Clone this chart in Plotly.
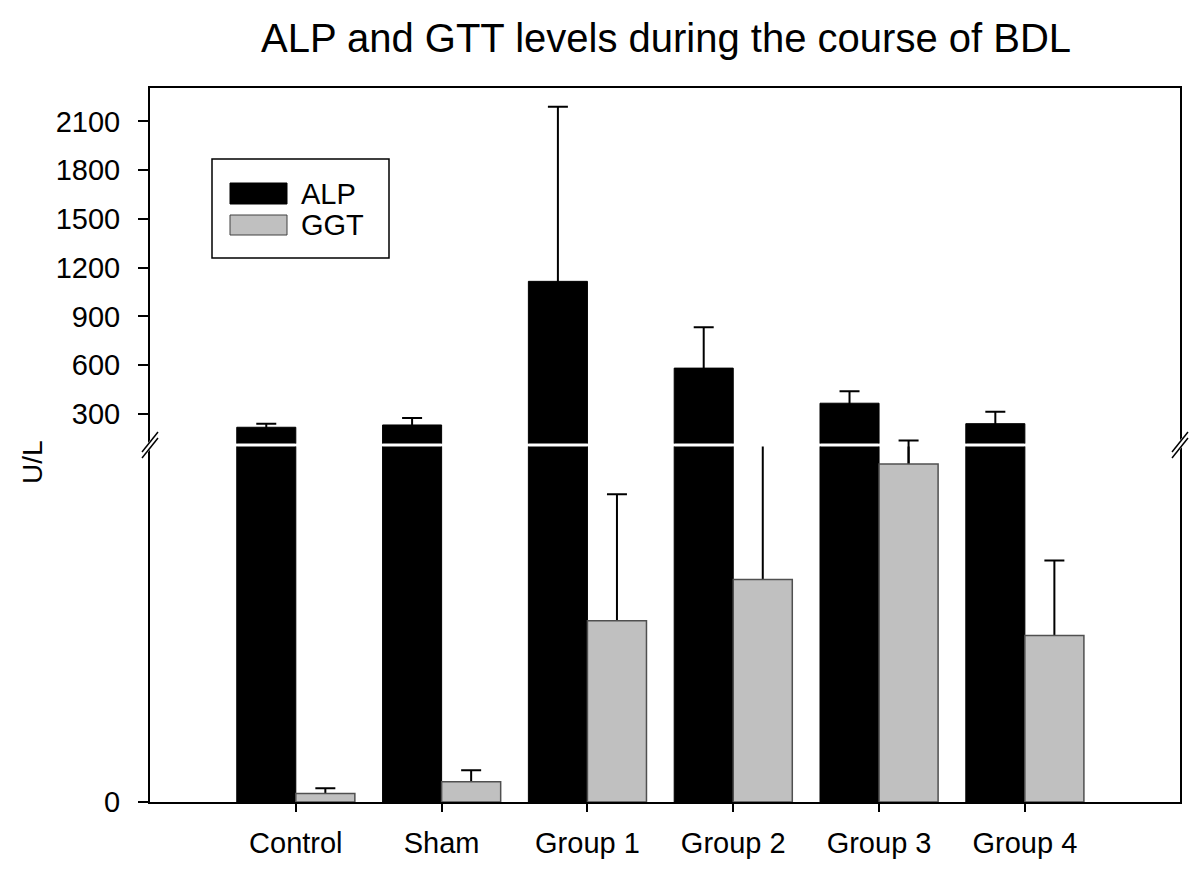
import plotly.graph_objects as go

# ---- data ----
groups = ["Control", "Sham", "Group 1", "Group 2", "Group 3", "Group 4"]
alp = [218, 232, 1116, 582, 366, 240]
alp_err = [22, 43, 1075, 252, 74, 74]
ggt = [2.4, 5.7, 51.0, 62.6, 95.1, 46.8]
ggt_err = [1.5, 3.2, 35.6, 45.0, 6.6, 21.1]
upper_ticks = [300, 600, 900, 1200, 1500, 1800, 2100]
lower_ticks = [0]

FONT = "Liberation Sans, Arial, sans-serif"
OFF = 8  # page body margin
W, H = 1200 - OFF, 881 - OFF
L = 150 - OFF
T = 88 - OFF
B = H - (802 - OFF)
R = W - (1180 - OFF)
PW, PH = W - L - R, H - T - B

LOW_TOP = 0.4979          # top of the lower segment
UP_BOT = 0.5021           # bottom of the upper segment
LOW_MAX = 100             # lower segment value range
EXT_TOP = 0.514           # slightly taller twin of the lower segment (lets one cap cross the break)


def px(xpix):
    return (xpix - OFF - L) / PW


def py(ypix):
    return (H - B - (ypix - OFF)) / PH


fig = go.Figure()


def err(arr, minus):
    return dict(type="data", visible=True, symmetric=False, array=arr, arrayminus=[minus] * len(arr),
                color="black", thickness=2, width=10)


clear = dict(color="rgba(0,0,0,0)", line=dict(width=0))
alp_marker = dict(color="black", line=dict(color="black", width=1))
ggt_marker = dict(color="#c0c0c0", line=dict(color="#505050", width=1.5))
common = dict(showlegend=False, alignmentgroup="all")

# ---- lower segment (0-100) ----
fig.add_trace(go.Bar(x=groups, y=alp, name="ALP", marker=alp_marker,
                     xaxis="x", yaxis="y", offsetgroup="a", **common))
fig.add_trace(go.Bar(x=groups, y=ggt, name="GGT", marker=clear, error_y=err(ggt_err, 1.5),
                     xaxis="x", yaxis="y", offsetgroup="g", hoverinfo="skip", **common))
fig.add_trace(go.Bar(x=[groups[4]], y=[ggt[4]], name="GGT", marker=clear, error_y=err([ggt_err[4]], 1.5),
                     xaxis="x", yaxis="y3", offsetgroup="g", hoverinfo="skip", **common))
fig.add_trace(go.Bar(x=groups, y=ggt, name="GGT", marker=ggt_marker,
                     xaxis="x", yaxis="y3", offsetgroup="g", **common))

# ---- upper segment ----
fig.add_trace(go.Bar(x=groups, y=alp, name="ALP", marker=alp_marker, error_y=err(alp_err, 20),
                     xaxis="x2", yaxis="y2", offsetgroup="a", **common))
fig.add_trace(go.Bar(x=groups, y=ggt, name="GGT", marker=ggt_marker,
                     xaxis="x2", yaxis="y2", offsetgroup="g", **common))

tickfont = dict(family=FONT, size=29, color="black")
xr = [-1.0, 6.064]

fig.update_layout(
    width=W, height=H,
    margin=dict(l=L, r=R, t=T, b=B),
    paper_bgcolor="white", plot_bgcolor="rgba(0,0,0,0)",
    barmode="group", bargap=0.19, bargroupgap=0,
    font=dict(family=FONT, color="black"),
    title=dict(text="ALP and GTT levels during the course of BDL", x=(666 - OFF) / W, xanchor="center",
               xref="container", yref="container", y=1 - (38 - OFF) / H, yanchor="middle",
               font=dict(family=FONT, size=40, color="black")),
    xaxis=dict(anchor="y", range=xr, showline=True, linecolor="black", linewidth=2,
               ticks="outside", ticklen=8, tickwidth=1.5, tickcolor="black",
               tickfont=tickfont, showgrid=False, zeroline=False, ticklabelstandoff=6),
    xaxis2=dict(anchor="y2", matches="x", range=xr, side="top", showline=True, linecolor="black", linewidth=2,
                ticks="", showticklabels=False, showgrid=False, zeroline=False),
    yaxis=dict(domain=[0, LOW_TOP], range=[0, LOW_MAX], tickvals=lower_ticks, showline=True, mirror=True,
               linecolor="black", linewidth=2, ticks="outside", ticklen=10, tickwidth=1.5, tickcolor="black",
               tickfont=tickfont, showgrid=False, zeroline=False, ticklabelstandoff=12),
    yaxis3=dict(domain=[0, EXT_TOP], range=[0, LOW_MAX * EXT_TOP / LOW_TOP], anchor="x", visible=False,
                showgrid=False, zeroline=False),
    yaxis2=dict(domain=[UP_BOT, 1], range=[118, 2306], tickvals=upper_ticks, showline=True, mirror=True,
                linecolor="black", linewidth=2, ticks="outside", ticklen=10, tickwidth=1.5, tickcolor="black",
                tickfont=tickfont, showgrid=False, zeroline=False, ticklabelstandoff=12),
)

shapes = []
# axis-break marks
for cx in (150, 1180):
    cy = 445
    shapes.append(dict(type="line", xref="paper", yref="paper", x0=px(cx - 8), y0=py(cy + 10),
                       x1=px(cx + 8), y1=py(cy - 10), line=dict(color="white", width=6), layer="above"))
    for d in (-3, 3):
        shapes.append(dict(type="line", xref="paper", yref="paper", x0=px(cx - 8), y0=py(cy + 10 + d),
                           x1=px(cx + 8), y1=py(cy - 10 + d), line=dict(color="black", width=1.5), layer="above"))

# legend box
shapes.append(dict(type="rect", xref="paper", yref="paper", x0=px(212), x1=px(389), y0=py(258), y1=py(159),
                   line=dict(color="black", width=1.5), fillcolor="white", layer="above"))
shapes.append(dict(type="rect", xref="paper", yref="paper", x0=px(230), x1=px(287), y0=py(204), y1=py(183),
                   line=dict(color="black", width=1), fillcolor="black", layer="above"))
shapes.append(dict(type="rect", xref="paper", yref="paper", x0=px(230), x1=px(287), y0=py(235), y1=py(215),
                   line=dict(color="#404040", width=1), fillcolor="#c0c0c0", layer="above"))
fig.update_layout(shapes=shapes)

annotations = [
    dict(text="ALP", xref="paper", yref="paper", x=px(299), y=py(194), xanchor="left", yanchor="middle",
         showarrow=False, font=dict(family=FONT, size=29, color="black")),
    dict(text="GGT", xref="paper", yref="paper", x=px(299), y=py(225), xanchor="left", yanchor="middle",
         showarrow=False, font=dict(family=FONT, size=29, color="black")),
    dict(text="U/L", xref="paper", yref="paper", x=px(32), y=py(462), xanchor="center", yanchor="middle",
         textangle=-90, showarrow=False, font=dict(family=FONT, size=28, color="black")),
]
fig.update_layout(annotations=annotations)

fig.write_html("out.html")
